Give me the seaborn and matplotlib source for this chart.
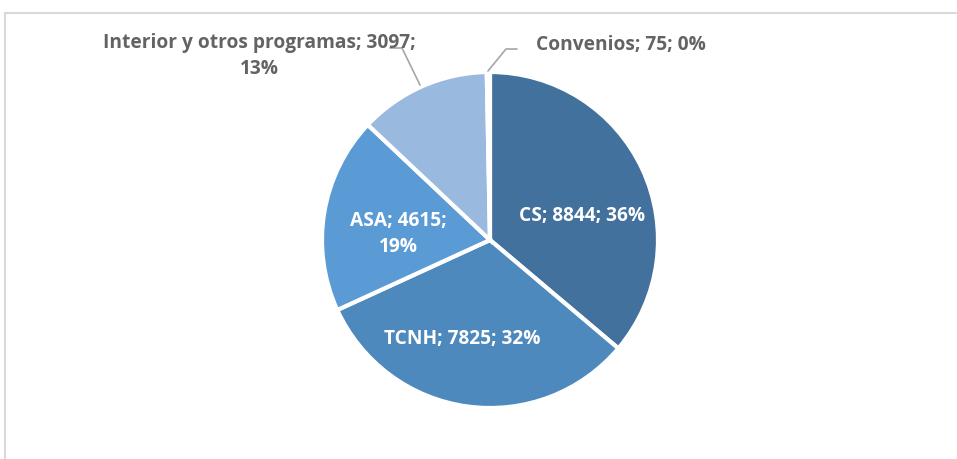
import matplotlib
matplotlib.use("Agg")
import matplotlib.pyplot as plt
import seaborn as sns
import numpy as np
from matplotlib.patches import Rectangle

# data
categorias = ['CS', 'TCNH', 'ASA', 'Interior y otros programas', 'Convenios']
valores = [8844, 7825, 4615, 3097, 75]
porcentajes = ['36%', '32%', '19%', '13%', '0%']
colores = ['#41719C', '#4E89BD', '#5B9BD5', '#9AB9DF', '#C5D6EC']

sns.set_theme(style='white')
plt.rcParams['font.family'] = ['Open Sans', 'DejaVu Sans']

W, H = 957, 460
fig = plt.figure(figsize=(W / 100, H / 100), dpi=100)
ax = fig.add_axes([0, 0, 1, 1])

wedges, _ = ax.pie(valores, colors=sns.color_palette(colores), startangle=90,
                   counterclock=False,
                   wedgeprops=dict(edgecolor='white', linewidth=3))

# pixel -> data helpers (center 490,241 ; radius 168 px)
cx, cy, r = 490, 241, 168
ax.set_xlim(-cx / r, (W - cx) / r)
ax.set_ylim(-(H - cy) / r, cy / r)
ax.set_aspect('auto')
ax.axis('off')


def px(x, y):
    return (x - cx) / r, (cy - y) / r


etiquetas = [f'{c}; {v}; {p}' for c, v, p in zip(categorias, valores, porcentajes)]

fs = 13.8
kw = dict(fontsize=fs, fontweight='bold', ha='center', va='center')
ax.text(*px(582, 216), etiquetas[0], color='white', **kw)
ax.text(*px(462, 339), etiquetas[1], color='white', **kw)
ax.text(*px(398, 234), 'ASA; 4615;\n19%', color='white', linespacing=1.42, **kw)

gris = '#636363'
ax.text(*px(259, 56), 'Interior y otros programas; 3097;\n13%', color=gris,
        linespacing=1.42, **kw)
ax.text(*px(536, 45), etiquetas[4], color=gris, fontsize=fs, fontweight='bold',
        ha='left', va='center')

# leader lines
lx = [px(390, 49)[0], px(402, 49)[0], px(420, 86)[0]]
ly = [px(390, 49)[1], px(402, 49)[1], px(420, 86)[1]]
ax.plot(lx, ly, color='#a6a6a6', lw=1.2)
lx = [px(517, 50)[0], px(506, 50)[0], px(488, 72)[0]]
ly = [px(517, 50)[1], px(506, 50)[1], px(488, 72)[1]]
ax.plot(lx, ly, color='#a6a6a6', lw=1.2)

# chart area border
fig.patches.append(Rectangle((5 / W, -0.1), 1.2, (H - 14) / H + 0.1,
                             transform=fig.transFigure, fill=False,
                             edgecolor='#d9d9d9', lw=1.5))

fig.savefig('out.png', dpi=100)
